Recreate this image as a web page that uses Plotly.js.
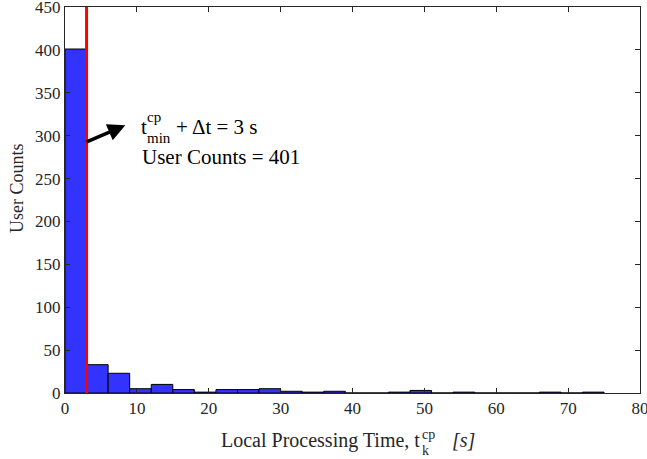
<!DOCTYPE html>
<html>
<head>
<meta charset="utf-8">
<script src="https://cdn.plot.ly/plotly-3.0.1.min.js"></script>
<style>html,body{margin:0;padding:0;background:#fff;}</style>
</head>
<body>
<div id="chart" style="width:647px;height:459px;"></div>
<script>
// Histogram bins (left edges, seconds) and user counts per bin
const binStarts = [0,3,6,9,12,15,18,21,24,27,30,33,36,39,42,45,48,51,54,57,60,63,66,69,72];
const binWidth = 3;
const userCounts = [401,33,23,5,10,4,1,4,4,5,2,1,2,0,0,1,3,0,1,0,0,0,1,0,1];
const thresholdTime = 3;
const xTicks = [0,10,20,30,40,50,60,70,80];
const yTicks = [0,50,100,150,200,250,300,350,400,450];

const centers = binStarts.map(s => s + binWidth / 2);
const serif = 'Liberation Serif, Times New Roman, serif';
const font = {family: serif, size: 17, color: '#262626'};
const ML = 65, MT = 7;

// text placed by pixel position (px = left/right/center x, py = vertical centre)
function label(text, px, py, size, xanchor, color) {
  return {
    xref: 'paper', yref: 'paper', x: 0, y: 1,
    xanchor: xanchor || 'left', yanchor: 'middle',
    xshift: px - ML, yshift: -(py - MT),
    text: text, showarrow: false, borderpad: 0,
    font: {family: serif, size: size, color: color || '#000000'}
  };
}

const trace = {
  type: 'bar',
  x: centers,
  y: userCounts,
  width: binStarts.map(() => binWidth),
  marker: {color: '#3333ff', line: {color: '#000000', width: 1}},
  hoverinfo: 'x+y'
};

const yTitle = label('User Counts', 17, 188, 18, 'center', '#262626');
yTitle.textangle = -90;

const layout = {
  width: 647, height: 459,
  margin: {l: 65, r: 7, t: 7, b: 66},
  paper_bgcolor: '#ffffff', plot_bgcolor: '#ffffff',
  font: font,
  showlegend: false,
  bargap: 0,
  xaxis: {
    range: [0, 80], tickvals: xTicks, ticktext: xTicks.map(String),
    ticks: 'inside', ticklen: 5, tickcolor: '#262626',
    showline: true, linecolor: '#262626', linewidth: 1, mirror: 'ticks',
    showgrid: false, zeroline: false, ticklabeloverflow: 'allow',
    tickfont: font
  },
  yaxis: {
    range: [0, 450], tickvals: yTicks, ticktext: yTicks.map(String),
    ticks: 'inside', ticklen: 5, tickcolor: '#262626',
    showline: true, linecolor: '#262626', linewidth: 1, mirror: 'ticks',
    showgrid: false, zeroline: false, ticklabeloverflow: 'allow',
    tickfont: font
  },
  shapes: [{
    type: 'line', xref: 'x', yref: 'paper',
    x0: thresholdTime, x1: thresholdTime, y0: 0, y1: 1,
    line: {color: '#ff0000', width: 3}
  }],
  annotations: [
    {
      x: 8.4, y: 312, xref: 'x', yref: 'y',
      ax: 2.8, ay: 292, axref: 'x', ayref: 'y',
      text: '', showarrow: true, arrowhead: 2, arrowsize: 1, arrowwidth: 3.5, arrowcolor: '#000000'
    },
    label('t', 140, 127, 21),
    label('cp', 146, 117, 15),
    label('min', 146, 138, 15),
    label('+ Δt = ' + thresholdTime + ' s', 175, 127, 21),
    label('User Counts = ' + userCounts[0], 141, 157, 21),
    label('Local Processing Time, t', 421, 440, 20, 'right', '#262626'),
    label('cp', 421, 434, 14, 'left', '#262626'),
    label('k', 421, 450, 14, 'left', '#262626'),
    label('<i>[s]</i>', 451, 440, 20, 'left', '#262626'),
    yTitle
  ]
};

Plotly.newPlot('chart', [trace], layout, {displayModeBar: false, staticPlot: true});
</script>
</body>
</html>
